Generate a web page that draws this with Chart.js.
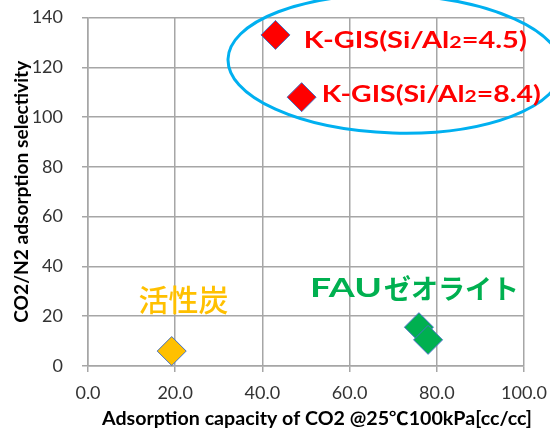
<!DOCTYPE html>
<html>
<head>
<meta charset="utf-8">
<script src="https://cdn.jsdelivr.net/npm/chart.js@4"></script>
<style>
  html, body { margin: 0; padding: 0; background: #fff; }
  #wrap { width: 550px; height: 431px; position: relative; }
</style>
</head>
<body>
<div id="wrap"><canvas id="chart"></canvas></div>
<script>
// values: x = CO2 capacity [cc/cc], y = CO2/N2 selectivity
const kgisX = [43.0, 49.0];
const kgisY = [133, 108];
const carbonX = [19.2];
const carbonY = [6];
const fauX = [75.9, 78.0];
const fauY = [15.6, 10.5];

const xTicks = [0, 20, 40, 60, 80, 100];
const yTicks = [0, 20, 40, 60, 80, 100, 120, 140];

const xTitle = "Adsorption capacity of CO2 @25℃100kPa[cc/cc]";
const yTitle = "CO2/N2 adsorption selectivity";

const latin = "Lato, 'Noto Sans CJK JP', sans-serif";
const cjk = "'Noto Sans CJK JP', sans-serif";

const toPoints = (xs, ys) => xs.map((x, i) => ({ x: x, y: ys[i] }));

// text runs drawn one after the other; w = width the whole line should take
const notes = [
  { runs: [["K-GIS(Si/Al", 23], ["2", 17], ["=4.5)", 23]], x: 49.5, y: 127.6, color: "#ff0000", w: 223 },
  { runs: [["K-GIS(Si/Al", 23], ["2", 17], ["=8.4)", 23]], x: 53.6, y: 106.1, color: "#ff0000", w: 219 },
];

// the blue ring round the K-GIS points
const ring = { cx: 70.4, cy: 121.3, rx: 38.3, ry: 27.7, rot: 0.03 };

function runsWidth(ctx, runs) {
  let w = 0;
  runs.forEach(([t, sz]) => { ctx.font = "bold " + sz + "px " + latin; w += ctx.measureText(t).width; });
  return w;
}

// draws bold text runs from (0,0) squeezed/stretched to width w
function drawRuns(ctx, runs, w) {
  const sx = w / runsWidth(ctx, runs);
  ctx.save();
  ctx.scale(sx, 1);
  let px = 0;
  runs.forEach(([t, sz]) => {
    ctx.font = "bold " + sz + "px " + latin;
    ctx.fillText(t, px, 0);
    px += ctx.measureText(t).width;
  });
  ctx.restore();
}

const notesPlugin = {
  id: "notes",
  afterDatasetsDraw(chart) {
    const ctx = chart.ctx;
    const xs = chart.scales.x, ys = chart.scales.y;
    const area = chart.chartArea;
    ctx.save();

    // ring
    const cx = xs.getPixelForValue(ring.cx), cy = ys.getPixelForValue(ring.cy);
    const rx = xs.getPixelForValue(ring.cx + ring.rx) - cx;
    const ry = cy - ys.getPixelForValue(ring.cy + ring.ry);
    ctx.beginPath();
    ctx.ellipse(cx, cy, rx, ry, ring.rot, 0, Math.PI * 2);
    ctx.strokeStyle = "#00b0f0";
    ctx.lineWidth = 3;
    ctx.stroke();

    ctx.textBaseline = "alphabetic";
    ctx.textAlign = "left";

    // K-GIS labels, small "2"
    notes.forEach((n) => {
      ctx.save();
      ctx.translate(xs.getPixelForValue(n.x), ys.getPixelForValue(n.y));
      ctx.fillStyle = n.color;
      drawRuns(ctx, n.runs, n.w);
      ctx.restore();
    });

    // 活性炭
    ctx.textAlign = "center";
    ctx.textBaseline = "middle";
    ctx.fillStyle = "#ffc000";
    ctx.font = "500 30px " + cjk;
    ctx.fillText("活性炭", xs.getPixelForValue(21.9), ys.getPixelForValue(26.5));

    // FAUゼオライト : wide "FAU" then katakana
    ctx.textAlign = "left";
    ctx.fillStyle = "#00b050";
    ctx.save();
    ctx.translate(xs.getPixelForValue(50.9), ys.getPixelForValue(31.1));
    drawRuns(ctx, [["FAU", 27]], 72);
    ctx.translate(74, 0);
    ctx.font = "bold 27px " + cjk;
    ctx.fillText("ゼオライト", 0, 0);
    ctx.restore();

    // axis titles
    ctx.textAlign = "left";
    ctx.textBaseline = "alphabetic";
    ctx.fillStyle = "#000";
    const tw = 430;
    ctx.save();
    ctx.translate(317 - tw / 2, 425);
    drawRuns(ctx, [[xTitle, 18]], tw);
    ctx.restore();

    const th = 262;
    ctx.save();
    ctx.translate(28, (area.top + area.bottom) / 2 + th / 2);
    ctx.rotate(-Math.PI / 2);
    drawRuns(ctx, [[yTitle, 18]], th);
    ctx.restore();

    ctx.restore();
  },
};

const pointStyleOf = (fill) => ({
  backgroundColor: fill,
  borderColor: "#4472c4",
  borderWidth: 1,
  pointStyle: "rectRot",
  pointRadius: 14.5,
  pointHoverRadius: 14.5,
});

new Chart(document.getElementById("chart"), {
  type: "scatter",
  data: {
    datasets: [
      Object.assign({ label: "K-GIS", data: toPoints(kgisX, kgisY) }, pointStyleOf("#ff0000")),
      Object.assign({ label: "活性炭", data: toPoints(carbonX, carbonY) }, pointStyleOf("#ffc000")),
      Object.assign({ label: "FAU", data: toPoints(fauX, fauY) }, pointStyleOf("#00b050")),
    ],
  },
  options: {
    responsive: true,
    maintainAspectRatio: false,
    animation: false,
    layout: { padding: { top: 17.5, right: 26, bottom: 0, left: 0 } },
    plugins: {
      legend: { display: false },
      tooltip: { enabled: false },
    },
    scales: {
      x: {
        type: "linear",
        min: 0,
        max: 100,
        afterBuildTicks: (s) => { s.ticks = xTicks.map((v) => ({ value: v })); },
        afterFit: (s) => { s.height = 65; s.paddingLeft = 0; s.paddingRight = 0; },
        grid: { color: "#a6a6a6", lineWidth: 1.5, tickLength: 6 },
        border: { color: "#a6a6a6", width: 1.5 },
        ticks: {
          padding: 10,
          color: "#333",
          font: { family: latin, size: 18 },
          callback: (v) => Number(v).toFixed(1),
        },
      },
      y: {
        type: "linear",
        min: 0,
        max: 140,
        afterBuildTicks: (s) => { s.ticks = yTicks.map((v) => ({ value: v })); },
        afterFit: (s) => { s.width = 88; s.paddingTop = 0; s.paddingBottom = 0; },
        grid: { color: "#a6a6a6", lineWidth: 1.5, tickLength: 6 },
        border: { color: "#a6a6a6", width: 1.5 },
        ticks: {
          padding: 19,
          color: "#333",
          font: { family: latin, size: 18 },
          callback: (v) => String(v),
        },
      },
    },
  },
  plugins: [notesPlugin],
});
</script>
</body>
</html>
